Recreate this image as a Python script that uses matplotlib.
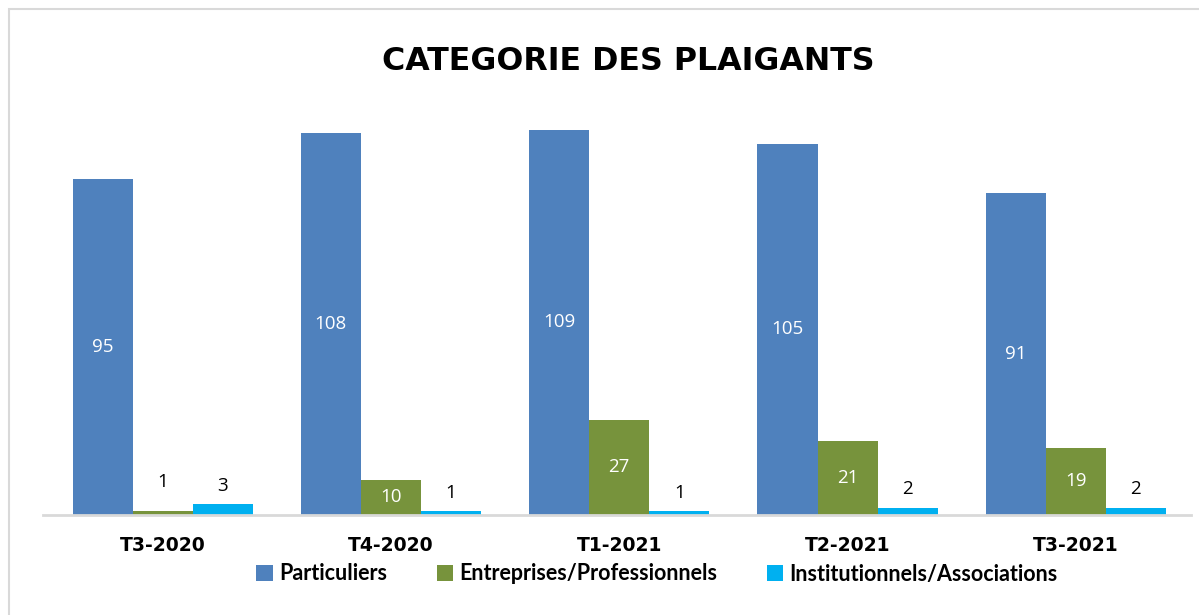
import matplotlib
matplotlib.use("Agg")
import matplotlib.pyplot as plt
import numpy as np
from matplotlib.patches import Rectangle
from matplotlib.lines import Line2D

categories = ["T3-2020", "T4-2020", "T1-2021", "T2-2021", "T3-2021"]
particuliers = [95, 108, 109, 105, 91]
entreprises = [1, 10, 27, 21, 19]
institutionnels = [3, 1, 1, 2, 2]
series_names = ["Particuliers", "Entreprises/Professionnels", "Institutionnels/Associations"]
colors = ["#4F81BD", "#77933C", "#00B0F0"]

plt.rcParams['font.family'] = ['Lato', 'DejaVu Sans']

fig = plt.figure(figsize=(11.99, 6.15), dpi=100)
fig.patch.set_facecolor("white")
# outer chart border
fig.patches.append(Rectangle((9/1199, -0.1), 1.2, 0.1 + (615-9)/615, transform=fig.transFigure,
                             fill=False, edgecolor="#D9D9D9", linewidth=1.5, zorder=0))

L, R = 48.5, 1190
ax = fig.add_axes([L/1199, 100/615, (R-L)/1199, (515-91)/615])
x = np.arange(len(categories))
w = 0.263
data = [particuliers, entreprises, institutionnels]
for i, (vals, name, c) in enumerate(zip(data, series_names, colors)):
    bars = ax.bar(x + (i-1)*w, vals, width=w, color=c, label=name, zorder=2)
    for b, v in zip(bars, vals):
        cx = b.get_x() + b.get_width()/2
        if v >= 5:
            ax.annotate(str(v), (cx, v/2), ha="center", va="center", color="white",
                        fontsize=13.5, family=["Open Sans", "DejaVu Sans"])
        else:
            pad = 15 if i == 1 else 7
            ax.annotate(str(v), (cx, v), xytext=(0, pad), textcoords="offset points",
                        ha="center", va="bottom", color="black",
                        fontsize=13.5, family=["Open Sans", "DejaVu Sans"])

ax.set_xlim(-0.5, len(categories)-0.5)
ax.set_ylim(0, 120)
ax.set_yticks([])
ax.set_xticks(x)
ax.set_xticklabels(categories, fontsize=13.5, fontweight="bold", family=["DejaVu Sans"])
ax.tick_params(axis="x", length=0, pad=15)
for s in ["top", "right", "left", "bottom"]:
    ax.spines[s].set_visible(False)
fig.lines.append(Line2D([43/1199, 1191/1199], [100/615, 100/615], transform=fig.transFigure,
                        color="#D9D9D9", linewidth=2, zorder=1))

fig.text(628/1199, 1 - 61/615, "CATEGORIE DES PLAIGANTS", ha="center", va="center",
         fontsize=22.8, fontweight="bold", family=["DejaVu Sans"])

fig.legend(loc="center", bbox_to_anchor=(657/1199, 1 - 574/615), ncol=3, frameon=False,
           prop={"size": 15.5, "weight": "bold"}, handlelength=0.75, handleheight=0.75,
           handletextpad=0.3, columnspacing=2.3)

fig.savefig("out.png", dpi=100, facecolor="white")
